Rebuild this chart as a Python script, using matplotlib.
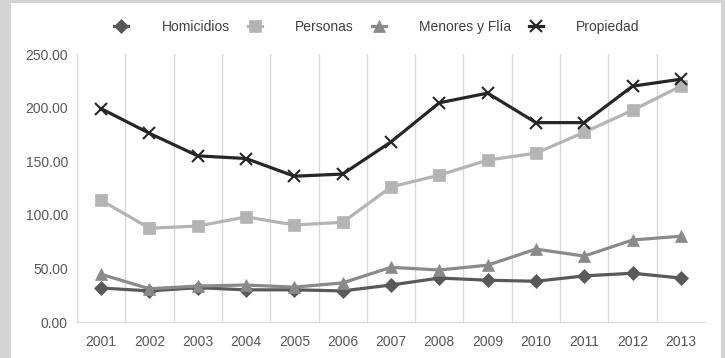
import matplotlib
matplotlib.use("Agg")
from matplotlib import pyplot as plt
from matplotlib.patches import Rectangle

plt.rcParams['font.family'] = ['Liberation Sans Narrow', 'Liberation Sans', 'DejaVu Sans']

years = ["2001", "2002", "2003", "2004", "2005", "2006", "2007",
         "2008", "2009", "2010", "2011", "2012", "2013"]
homicidios = [31.7, 29.0, 32.0, 30.0, 30.0, 29.0, 34.5, 41.0, 39.0, 38.0, 43.0, 45.5, 41.0]
personas = [113.5, 87.5, 89.5, 98.0, 90.5, 93.0, 126.0, 137.0, 151.0, 157.5, 177.0, 197.5, 220.0]
menores = [44.5, 31.0, 33.5, 34.5, 32.5, 36.5, 51.0, 48.5, 53.0, 68.0, 61.5, 76.5, 80.0]
propiedad = [199.0, 176.0, 155.0, 152.5, 136.0, 138.0, 168.0, 204.5, 213.5, 186.0, 186.0, 220.0, 226.5]

series = [
    ("Homicidios", homicidios, "#595959", "D", 7),
    ("Personas", personas, "#b4b4b4", "s", 8),
    ("Menores y Flía", menores, "#8a8a8a", "^", 8),
    ("Propiedad", propiedad, "#262626", "x", 8),
]

fig = plt.figure(figsize=(7.25, 3.58), dpi=100)
fig.patch.set_facecolor("#d4d4d4")
fig.add_artist(Rectangle((11 / 725, 0), 710 / 725, 355 / 358,
                         transform=fig.transFigure, facecolor="white",
                         edgecolor="none", zorder=-10))

ax = fig.add_axes([77 / 725, 36 / 358, 628 / 725, 268 / 358])
ax.set_facecolor("white")

x = list(range(len(years)))
for name, vals, color, marker, ms in series:
    ax.plot(x, vals, color=color, lw=2.3, marker=marker, markersize=ms,
            markeredgewidth=1.5 if marker == "x" else 0.5,
            markeredgecolor=color, label=name)

ax.set_xlim(-0.5, len(years) - 0.5)
ax.set_ylim(0, 250)
ax.set_xticks(x)
ax.set_xticklabels(years)
ax.set_yticks([0, 50, 100, 150, 200, 250])
ax.set_yticklabels([f"{v:.2f}" for v in [0, 50, 100, 150, 200, 250]])

# vertical gridlines between categories
for b in range(len(years)):
    ax.axvline(b - 0.5, color="#d9d9d9", lw=1, zorder=0)

for s in ["top", "right"]:
    ax.spines[s].set_visible(False)
ax.spines["left"].set_color("#d9d9d9")
ax.spines["bottom"].set_color("#d9d9d9")
ax.tick_params(axis="both", length=0, labelsize=10, colors="#595959")
ax.tick_params(axis="y", pad=6.5)
ax.tick_params(axis="x", pad=9.5)

fig.legend(*ax.get_legend_handles_labels(), loc="center",
           bbox_to_anchor=(377 / 725, 1 - 27 / 358), ncol=4, frameon=False,
           fontsize=10, labelcolor="#404040", handlelength=1.0,
           columnspacing=1.3, handletextpad=2.4)

fig.savefig("out.png", dpi=100, facecolor=fig.get_facecolor())
